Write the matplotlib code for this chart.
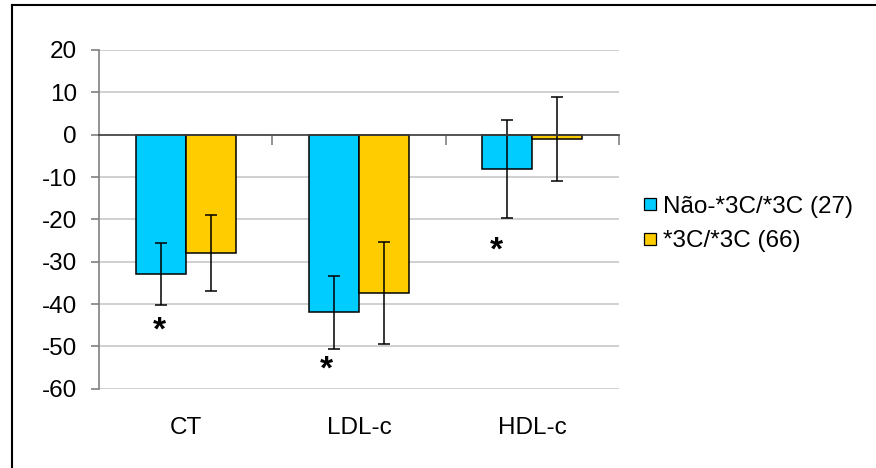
import matplotlib.pyplot as plt
import matplotlib.lines as mlines
import numpy as np

plt.rcParams["font.family"] = ["Liberation Sans", "DejaVu Sans"]
plt.rcParams["axes.unicode_minus"] = False

categories = ["CT", "LDL-c", "HDL-c"]
series_names = ["Não-*3C/*3C (27)", "*3C/*3C (66)"]
nao_vals = [-33.0, -42.0, -8.1]
nao_err = [7.3, 8.7, 11.6]
sim_vals = [-28.0, -37.4, -1.0]
sim_err = [9.0, 12.0, 10.0]
# asterisks (significance marks) under the first series
star_offsets = [-0.15, -0.186, -0.21]
star_y = [-46.5, -55.5, -27.5]

colors = ["#00CCFF", "#FFCC00"]

fig = plt.figure(figsize=(8.76, 4.68), dpi=100)
ax = fig.add_axes([99 / 876, 1 - 388.7 / 468, 520 / 876, 338.7 / 468])

x = np.arange(len(categories))
w = 0.2885
ax.bar(x - w / 2, nao_vals, w, color=colors[0], edgecolor="black", linewidth=1.1, zorder=3)
ax.bar(x + w / 2, sim_vals, w, color=colors[1], edgecolor="black", linewidth=1.1, zorder=3)
ax.errorbar(x - w / 2, nao_vals, yerr=nao_err, fmt="none", ecolor="black",
            elinewidth=1.1, capsize=4.3, capthick=1.1, zorder=4)
ax.errorbar(x + w / 2, sim_vals, yerr=sim_err, fmt="none", ecolor="black",
            elinewidth=1.1, capsize=4.3, capthick=1.1, zorder=4)

for xi, off, sy in zip(x, star_offsets, star_y):
    ax.text(xi + off, sy, "*", ha="center", va="center", fontsize=24,
            fontweight="bold", zorder=5)

ax.set_xlim(-0.5, 2.5)
ax.set_ylim(-60, 20)
ax.set_yticks(np.arange(-60, 21, 10))
ax.yaxis.grid(True, color="#C8C8C8", linewidth=1.2, zorder=0)
ax.set_axisbelow(True)

ax.spines["top"].set_visible(False)
ax.spines["right"].set_visible(False)
ax.spines["left"].set_color("#808080")
ax.spines["left"].set_linewidth(1.2)
ax.spines["bottom"].set_position(("data", 0))
ax.spines["bottom"].set_color("#404040")
ax.spines["bottom"].set_linewidth(1.2)
ax.spines["bottom"].set_zorder(5)

ax.set_xticks([0.5, 1.5, 2.5])
ax.set_xticklabels([])
ax.tick_params(axis="x", direction="out", length=7, width=1.2, color="#808080")
ax.tick_params(axis="y", direction="out", length=6, width=1.2, color="#808080",
               labelsize=17.5, pad=10)

for xi, cat in zip(x, categories):
    ax.text(xi, -0.115, cat, transform=ax.get_xaxis_transform(), ha="center",
            va="center", fontsize=17.5)

handles = [mlines.Line2D([], [], linestyle="none", marker="s", markersize=8,
                         markerfacecolor=c, markeredgecolor="black", markeredgewidth=0.9)
           for c in colors]
fig.legend(handles, series_names, loc="center left", bbox_to_anchor=(628 / 876, 1 - 224 / 468),
           frameon=False, fontsize=17.5, handletextpad=0.05, handlelength=1.0,
           labelspacing=0.5, borderaxespad=0)

# outer frame (left and top edges)
fig.add_artist(mlines.Line2D([12 / 876, 12 / 876], [0, 1 - 5 / 468], color="black",
                             linewidth=1.5, transform=fig.transFigure))
fig.add_artist(mlines.Line2D([12 / 876, 1], [1 - 5 / 468, 1 - 5 / 468], color="black",
                             linewidth=1.5, transform=fig.transFigure))

fig.savefig("out.png", dpi=100)
